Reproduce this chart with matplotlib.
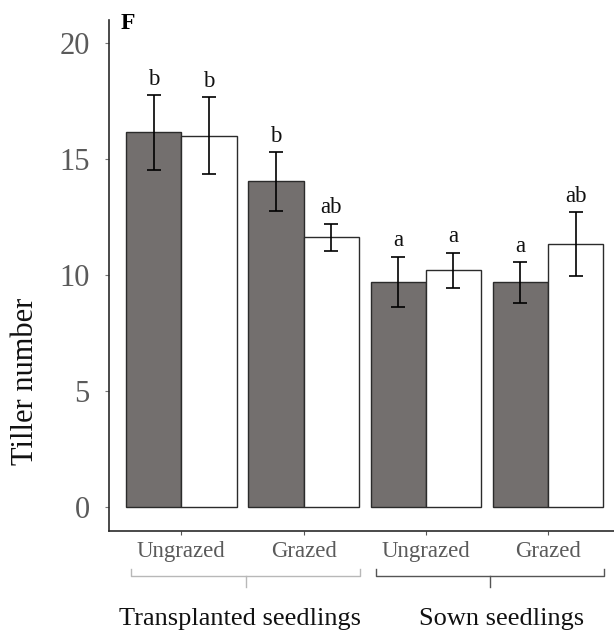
import matplotlib.pyplot as plt
import matplotlib.transforms as mtransforms
import numpy as np

plt.rcParams['font.family'] = ['Liberation Serif', 'DejaVu Serif']

# grazing treatment x seedling origin
treatments = ['Ungrazed', 'Grazed', 'Ungrazed', 'Grazed']
origins = ['Transplanted seedlings', 'Sown seedlings']

dark_mean = [16.14, 14.03, 9.70, 9.67]
dark_se = [1.60, 1.27, 1.08, 0.87]
dark_letters = ['b', 'b', 'a', 'a']

white_mean = [16.00, 11.61, 10.19, 11.33]
white_se = [1.65, 0.59, 0.77, 1.36]
white_letters = ['b', 'ab', 'a', 'ab']

width = 0.4525
x = np.arange(len(treatments))

fig = plt.figure(figsize=(6.14, 6.35), dpi=100)
ax = fig.add_axes([0.178, 0.1638, 0.822, 0.805])

err_kw = dict(ecolor='black', elinewidth=1.2, capsize=5, capthick=1.2)
ax.bar(x - width / 2, dark_mean, width, yerr=dark_se, color='#736f6e',
       edgecolor='#2b2b2b', linewidth=1.0, error_kw=err_kw, zorder=2)
ax.bar(x + width / 2, white_mean, width, yerr=white_se, color='white',
       edgecolor='#2b2b2b', linewidth=1.0, error_kw=err_kw, zorder=2)

# significance letters above the error bars
for xs, m, s, lab in zip(np.r_[x - width / 2, x + width / 2],
                         dark_mean + white_mean, dark_se + white_se,
                         dark_letters + white_letters):
    ax.annotate(lab, (xs, m + s), xytext=(0, 7.5), textcoords='offset points',
                ha='center', va='baseline', fontsize=16.5, color='#111111')

ax.set_xlim(-0.59, 3.54)
ax.set_ylim(-1.05, 21.0)
ax.set_yticks([0, 5, 10, 15, 20])
ax.set_xticks(x)
ax.set_xticklabels(treatments)

for side in ['top', 'right']:
    ax.spines[side].set_visible(False)
for side in ['left', 'bottom']:
    ax.spines[side].set_color('#2b2b2b')
    ax.spines[side].set_linewidth(1.2)

ax.tick_params(axis='y', direction='out', length=3, width=0.8, color='#777777',
               labelsize=22, labelcolor='#5a5a5a', pad=11)
ax.tick_params(axis='x', direction='out', length=3, width=0.8, color='#555555',
               labelsize=16.5, labelcolor='#5a5a5a', pad=4)

fig.text(0.042, 0.40, 'Tiller number', rotation=90, ha='center', va='center',
         fontsize=22, color='#111111')
fig.text(0.1966, 0.954, 'F', fontsize=17, fontweight='bold', ha='left',
         va='baseline', color='black')

# brackets grouping the treatments by seedling origin
trans = mtransforms.blended_transform_factory(ax.transData, fig.transFigure)
bracket_colors = ['#b8b8b8', '#555555']
label_x = [0.48, 2.62]
for i, name in enumerate(origins):
    left = x[2 * i] - 0.41
    right = x[2 * i + 1] + 0.46
    mid = (left + right) / 2
    c = bracket_colors[i]
    ax.plot([left, left, right, right], [0.1039, 0.0929, 0.0929, 0.1039],
            color=c, lw=1.0, transform=trans, clip_on=False)
    ax.plot([mid, mid], [0.0929, 0.0756], color=c, lw=1.0,
            transform=trans, clip_on=False)
    ax.text(label_x[i], 0.0157, name, transform=trans, ha='center',
            va='baseline', fontsize=19, color='#111111')

plt.savefig('out.png', dpi=100)
